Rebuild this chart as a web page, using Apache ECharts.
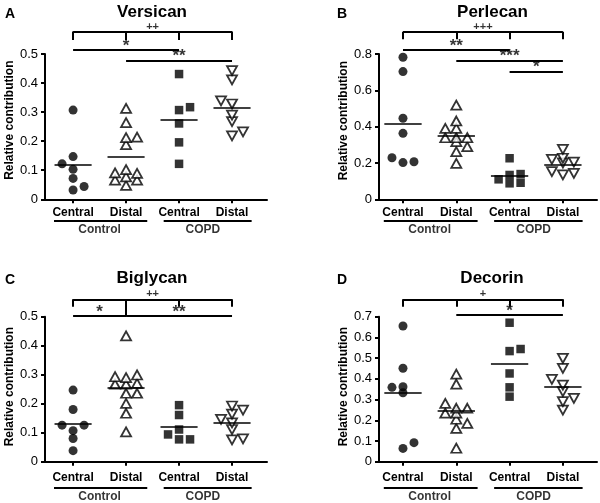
<!DOCTYPE html>
<html><head><meta charset="utf-8">
<script src="https://cdn.jsdelivr.net/npm/echarts@6/dist/echarts.min.js"></script>
<style>html,body{margin:0;padding:0;background:#fff}#chart{width:600px;height:503px}</style>
</head><body><div id="chart"></div>
<script>
// ---------------- data ----------------
const categories = ['Central', 'Distal', 'Central', 'Distal'];
const groupNames = ['Control', 'COPD'];
const panelLetters = ['A', 'B', 'C', 'D'];
const panelTitles = ['Versican', 'Perlecan', 'Biglycan', 'Decorin'];
const yAxisTitle = 'Relative contribution';

// A: Versican
const versicanControlCentral = [0.307, 0.147, 0.122, 0.103, 0.072, 0.044, 0.032];
const versicanControlDistal = [0.313, 0.264, 0.214, 0.212, 0.188, 0.102, 0.091, 0.089, 0.077, 0.066, 0.066, 0.048];
const versicanCopdCentral = [0.431, 0.317, 0.307, 0.261, 0.196, 0.122];
const versicanCopdDistal = [0.443, 0.411, 0.339, 0.328, 0.290, 0.267, 0.232, 0.218];
const versicanMeans = [0.118, 0.147, 0.274, 0.315];
const versicanTop = { y: 0.577, drops: [0.548, 0.548, 0.548, 0.548], label: '++' };
const versicanPairs = [[1, 3, 0.514, '*'], [2, 4, 0.477, '**']];

// B: Perlecan
const perlecanControlCentral = [0.782, 0.703, 0.446, 0.363, 0.229, 0.207, 0.202];
const perlecanControlDistal = [0.519, 0.431, 0.391, 0.391, 0.339, 0.339, 0.339, 0.317, 0.290, 0.262, 0.198];
const perlecanCopdCentral = [0.226, 0.139, 0.134, 0.110, 0.091, 0.088];
const perlecanCopdDistal = [0.275, 0.226, 0.220, 0.205, 0.200, 0.152, 0.143, 0.134];
const perlecanMeans = [0.418, 0.350, 0.128, 0.189];
const perlecanTop = { y: 0.923, drops: [0.881, 0.881, 0.881, 0.881], label: '+++' };
const perlecanPairs = [[1, 3, 0.822, '**'], [2, 4, 0.763, '***'], [3, 4, 0.703, '*']];

// C: Biglycan
const biglycanControlCentral = [0.247, 0.180, 0.126, 0.126, 0.107, 0.080, 0.038];
const biglycanControlDistal = [0.434, 0.299, 0.293, 0.290, 0.270, 0.267, 0.267, 0.236, 0.236, 0.201, 0.167, 0.103];
const biglycanCopdCentral = [0.195, 0.161, 0.111, 0.094, 0.077, 0.077];
const biglycanCopdDistal = [0.192, 0.178, 0.164, 0.146, 0.134, 0.111, 0.079, 0.075];
const biglycanMeans = [0.130, 0.255, 0.121, 0.133];
const biglycanTop = { y: 0.560, drops: [0.534, 0.503, 0.534, 0.534], label: '++' };
const biglycanPairs = [[1, 2, 0.503, '*'], [2, 4, 0.503, '**']];

// D: Decorin
const decorinControlCentral = [0.655, 0.451, 0.362, 0.359, 0.333, 0.092, 0.064];
const decorinControlDistal = [0.423, 0.375, 0.282, 0.258, 0.258, 0.234, 0.234, 0.205, 0.185, 0.161, 0.065];
const decorinCopdCentral = [0.671, 0.544, 0.534, 0.426, 0.359, 0.314];
const decorinCopdDistal = [0.499, 0.451, 0.397, 0.370, 0.338, 0.306, 0.290, 0.249];
const decorinMeans = [0.331, 0.246, 0.475, 0.362];
const decorinTop = { y: 0.784, drops: [0.748, 0.748, 0.748, 0.748], label: '+' };
const decorinPairs = [[2, 4, 0.708, '*']];

// ---------------- layout ----------------
const FONT = "'Liberation Sans', Arial, Helvetica, sans-serif";
const panels = [
  { groups: [versicanControlCentral, versicanControlDistal, versicanCopdCentral, versicanCopdDistal], means: versicanMeans, top: versicanTop, pairs: versicanPairs,
    grid: { left: 45, top: 54, width: 222, height: 145.3 }, xMin: 0.47, xMax: 4.66, yMax: 0.5, yStep: 0.1,
    titleX: 152, titleCY: 12, letterX: 10, letterCY: 14, labelMargin: 7, underlineOff: 21.7, groupOff: 30.7, nameShift: 13 },
  { groups: [perlecanControlCentral, perlecanControlDistal, perlecanCopdCentral, perlecanCopdDistal], means: perlecanMeans, top: perlecanTop, pairs: perlecanPairs,
    grid: { left: 379, top: 54, width: 218, height: 145.3 }, xMin: 0.55, xMax: 4.64, yMax: 0.8, yStep: 0.2,
    titleX: 492.5, titleCY: 12, letterX: 342, letterCY: 14, labelMargin: 7, underlineOff: 21.7, groupOff: 30.7, nameShift: 12 },
  { groups: [biglycanControlCentral, biglycanControlDistal, biglycanCopdCentral, biglycanCopdDistal], means: biglycanMeans, top: biglycanTop, pairs: biglycanPairs,
    grid: { left: 45, top: 316.7, width: 222, height: 145 }, xMin: 0.47, xMax: 4.66, yMax: 0.5, yStep: 0.1,
    titleX: 152, titleCY: 278.3, letterX: 10, letterCY: 280, labelMargin: 10, underlineOff: 26, groupOff: 35, nameShift: 5 },
  { groups: [decorinControlCentral, decorinControlDistal, decorinCopdCentral, decorinCopdDistal], means: decorinMeans, top: decorinTop, pairs: decorinPairs,
    grid: { left: 379, top: 316.7, width: 218, height: 145 }, xMin: 0.55, xMax: 4.64, yMax: 0.7, yStep: 0.1,
    titleX: 492, titleCY: 278.3, letterX: 342, letterCY: 280, labelMargin: 10, underlineOff: 26, groupOff: 35, nameShift: 5 }
];
const underlineSpans = [[0.64, 2.40], [2.71, 4.37]];
const groupLabelX = [1.5, 3.45];
const meanHalf = 0.35;

const symbolStyles = [
  { symbol: 'circle', symbolSize: 9, itemStyle: { color: '#000' } },
  { symbol: 'triangle', symbolSize: [10, 9], itemStyle: { color: '#fff', borderColor: '#000', borderWidth: 1.8 } },
  { symbol: 'rect', symbolSize: 8.5, itemStyle: { color: '#000' } },
  { symbol: 'triangle', symbolSize: [10, 9], symbolRotate: 180, itemStyle: { color: '#fff', borderColor: '#000', borderWidth: 1.8 } }
];

// compact beeswarm: three columns 11 px apart; a point goes to the first column
// (centre, then alternating sides) where nothing lies within 6 px vertically,
// otherwise to the column where its nearest neighbour is farthest.
function swarm(values, center, pxPerX, pxPerY) {
  const step = 11 / pxPerX, thr = 6;
  const sorted = values.slice().sort((a, b) => a - b);
  const placed = [];
  let pref = 1;
  const gap = (c, v) => {
    let m = Infinity;
    placed.forEach(p => { if (p.col === c) m = Math.min(m, Math.abs(p.v - v) * pxPerY); });
    return m;
  };
  for (const v of sorted) {
    const cands = [0, pref, -pref];
    let found = cands.find(c => gap(c, v) >= thr);
    if (found === undefined) {
      found = cands.reduce((best, c) => (gap(c, v) > gap(best, v) ? c : best), cands[0]);
    }
    placed.push({ v, col: found });
    if (found !== 0) pref = -Math.sign(found);
  }
  return placed.map(p => [center + p.col * step, p.v]);
}

const option = { animation: false, backgroundColor: '#fff', title: [], grid: [], xAxis: [], yAxis: [], series: [] };

panels.forEach((P, i) => {
  const g = P.grid;
  const pxPerX = g.width / (P.xMax - P.xMin);
  const pxPerY = g.height / P.yMax;
  option.grid.push({ left: g.left, top: g.top, width: g.width, height: g.height, containLabel: false, outerBoundsMode: 'none' });
  option.title.push({ text: panelTitles[i], left: P.titleX, top: P.titleCY - 10, textAlign: 'center', padding: 0,
    textStyle: { fontFamily: FONT, fontSize: 17, fontWeight: 'bold', color: '#000', lineHeight: 20 } });
  option.title.push({ text: panelLetters[i], left: P.letterX, top: P.letterCY - 8, textAlign: 'center', padding: 0,
    textStyle: { fontFamily: FONT, fontSize: 14, fontWeight: 'bold', color: '#000', lineHeight: 16 } });
  option.xAxis.push({
    type: 'value', gridIndex: i, min: P.xMin, max: P.xMax,
    axisLine: { show: true, onZero: false, lineStyle: { color: '#000', width: 2 } },
    axisTick: { show: true, customValues: [1, 2, 3, 4], length: 4, lineStyle: { color: '#000', width: 2 } },
    axisLabel: { show: true, customValues: [1, 2, 3, 4], margin: P.labelMargin, formatter: v => categories[Math.round(v) - 1],
      fontFamily: FONT, fontSize: 12, fontWeight: 'bold', color: '#000' },
    splitLine: { show: false }
  });
  option.yAxis.push({
    type: 'value', gridIndex: i, min: 0, max: P.yMax, interval: P.yStep,
    name: yAxisTitle, nameLocation: 'middle', nameGap: 29, nameRotate: 90,
    nameTextStyle: { fontFamily: FONT, fontSize: 12, fontWeight: 'bold', color: '#000', padding: [0, 0, 0, P.nameShift] },
    axisLine: { show: true, lineStyle: { color: '#000', width: 2 } },
    axisTick: { show: true, length: 4, lineStyle: { color: '#000', width: 2 } },
    axisLabel: { margin: 7, fontFamily: FONT, fontSize: 13, color: '#000' },
    splitLine: { show: false }
  });

  // points
  P.groups.forEach((vals, gi) => {
    option.series.push(Object.assign({
      type: 'scatter', xAxisIndex: i, yAxisIndex: i, z: 2, clip: false,
      data: swarm(vals, gi + 1, pxPerX, pxPerY)
    }, symbolStyles[gi]));
  });

  // mean lines
  option.series.push({
    type: 'lines', coordinateSystem: 'cartesian2d', xAxisIndex: i, yAxisIndex: i, z: 3, clip: false, silent: true,
    lineStyle: { color: '#000', width: 1.5, opacity: 1 },
    data: P.means.map((m, gi) => ({ coords: [[gi + 1 - meanHalf, m], [gi + 1 + meanHalf, m]] }))
  });

  // brackets
  const bl = [];
  bl.push({ coords: [[1, P.top.y], [4, P.top.y]] });
  P.top.drops.forEach((d, k) => bl.push({ coords: [[k + 1, P.top.y], [k + 1, d]] }));
  P.pairs.forEach(p => bl.push({ coords: [[p[0], p[2]], [p[1], p[2]]] }));
  // group underlines
  const uy = -P.underlineOff / pxPerY;
  underlineSpans.forEach(s => bl.push({ coords: [[s[0], uy], [s[1], uy]] }));
  option.series.push({
    type: 'lines', coordinateSystem: 'cartesian2d', xAxisIndex: i, yAxisIndex: i, z: 3, clip: false, silent: true,
    lineStyle: { color: '#000', width: 2, opacity: 1 }, data: bl
  });

  // texts
  const texts = [];
  texts.push({ value: [2.5, P.top.y], label: { formatter: P.top.label, fontSize: 11, fontWeight: 'bold', offset: [0, -5] } });
  P.pairs.forEach(p => texts.push({ value: [(p[0] + p[1]) / 2, p[2]], label: { formatter: p[3], fontSize: 17, fontWeight: 'bold', offset: [0, -4] } }));
  const gy = -P.groupOff / pxPerY;
  groupNames.forEach((n, k) => texts.push({ value: [groupLabelX[k], gy], label: { formatter: n, fontSize: 12, fontWeight: 'bold' } }));
  option.series.push({
    type: 'scatter', xAxisIndex: i, yAxisIndex: i, z: 4, clip: false, silent: true,
    symbol: 'circle', symbolSize: 1, itemStyle: { color: 'rgba(0,0,0,0)' },
    label: { show: true, position: 'inside', color: '#000', fontFamily: FONT },
    data: texts
  });
});

const chart = echarts.init(document.getElementById('chart'), null, { renderer: 'canvas' });
chart.setOption(option);
</script>
</body></html>
